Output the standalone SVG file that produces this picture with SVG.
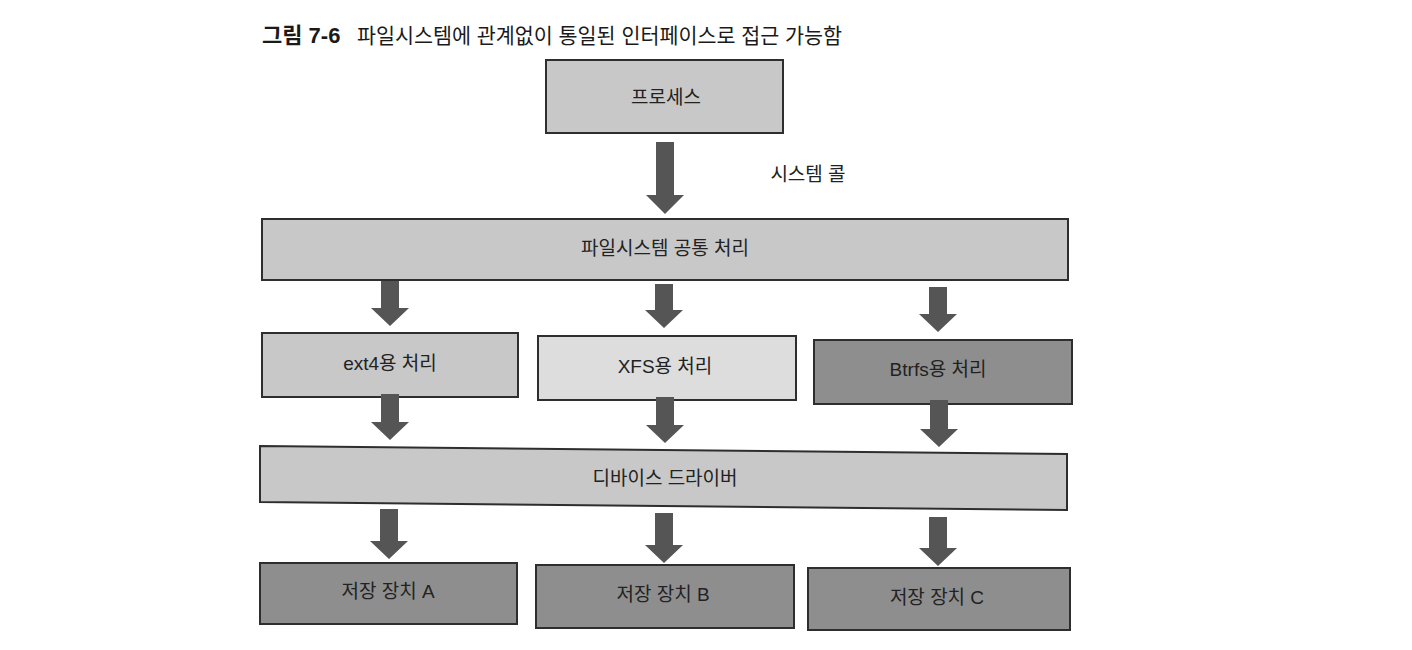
<svg xmlns="http://www.w3.org/2000/svg" width="1412" height="650" viewBox="0 0 1412 650">
<defs>
<style>
.box{stroke:#2e2e2e;stroke-width:2}
.l1{fill:#c8c8c8}
.l2{fill:#dddddd}
.d1{fill:#8e8e8e}
.t{font-family:"Liberation Sans","Noto Sans CJK KR",sans-serif;font-size:19px;fill:#222;text-anchor:middle;dominant-baseline:central}
.title{font-family:"Liberation Sans","Noto Sans CJK KR",sans-serif;font-size:21px;fill:#1a1a1a}
.arr{fill:#555555}
</style>
</defs>
<rect width="1412" height="650" fill="#ffffff"/>
<text class="title" x="262" y="43"><tspan font-weight="bold" font-size="22">그림 7-6</tspan></text>
<text class="title" x="357" y="43" textLength="485" lengthAdjust="spacingAndGlyphs">파일시스템에 관계없이 통일된 인터페이스로 접근 가능함</text>
<g id="process"><rect class="box l1" x="546" y="60" width="237" height="73"/><text class="t" x="666" y="97">프로세스</text></g>
<g id="fs-common"><rect class="box l1" x="262" y="219" width="806" height="61"/><text class="t" x="665" y="248">파일시스템 공통 처리</text></g>
<g id="ext4"><rect class="box l1" x="262" y="333" width="256" height="64"/><text class="t" x="390" y="363">ext4용 처리</text></g>
<g id="xfs"><rect class="box l2" x="538" y="336" width="258" height="64"/><text class="t" x="665" y="366">XFS용 처리</text></g>
<g id="btrfs"><rect class="box d1" x="814" y="340" width="258" height="64"/><text class="t" x="938" y="369">Btrfs용 처리</text></g>
<g id="driver"><path class="box l1" d="M260 446 L1067 454 L1067 510 L260 502 Z"/><text class="t" x="665" y="478">디바이스 드라이버</text></g>
<g id="storage-a"><rect class="box d1" x="260" y="563" width="257" height="61"/><text class="t" x="388" y="591">저장 장치 A</text></g>
<g id="storage-b"><rect class="box d1" x="536" y="565" width="258" height="63"/><text class="t" x="663" y="594">저장 장치 B</text></g>
<g id="storage-c"><rect class="box d1" x="808" y="568" width="262" height="62"/><text class="t" x="937" y="597">저장 장치 C</text></g>
<g id="connectors">
<path class="arr" d="M656 142 H674 V195 H684 L665 214 L646 195 H656 Z"/>
<text class="t" x="808" y="174">시스템 콜</text>
<path class="arr" d="M381 281 H399 V308 H409 L390 326 L371 308 H381 Z"/>
<path class="arr" d="M655 284 H673 V310 H683 L664 328 L645 310 H655 Z"/>
<path class="arr" d="M929 287 H947 V314 H957 L938 332 L919 314 H929 Z"/>
<path class="arr" d="M381 394 H399 V422 H409 L390 440 L371 422 H381 Z"/>
<path class="arr" d="M656 397 H674 V425 H684 L665 443 L646 425 H656 Z"/>
<path class="arr" d="M930 400 H948 V429 H958 L939 447 L920 429 H930 Z"/>
<path class="arr" d="M380 509 H398 V541 H408 L389 559 L370 541 H380 Z"/>
<path class="arr" d="M655 513 H673 V545 H683 L664 563 L645 545 H655 Z"/>
<path class="arr" d="M929 517 H947 V548 H957 L938 566 L919 548 H929 Z"/>
</g>
</svg>
